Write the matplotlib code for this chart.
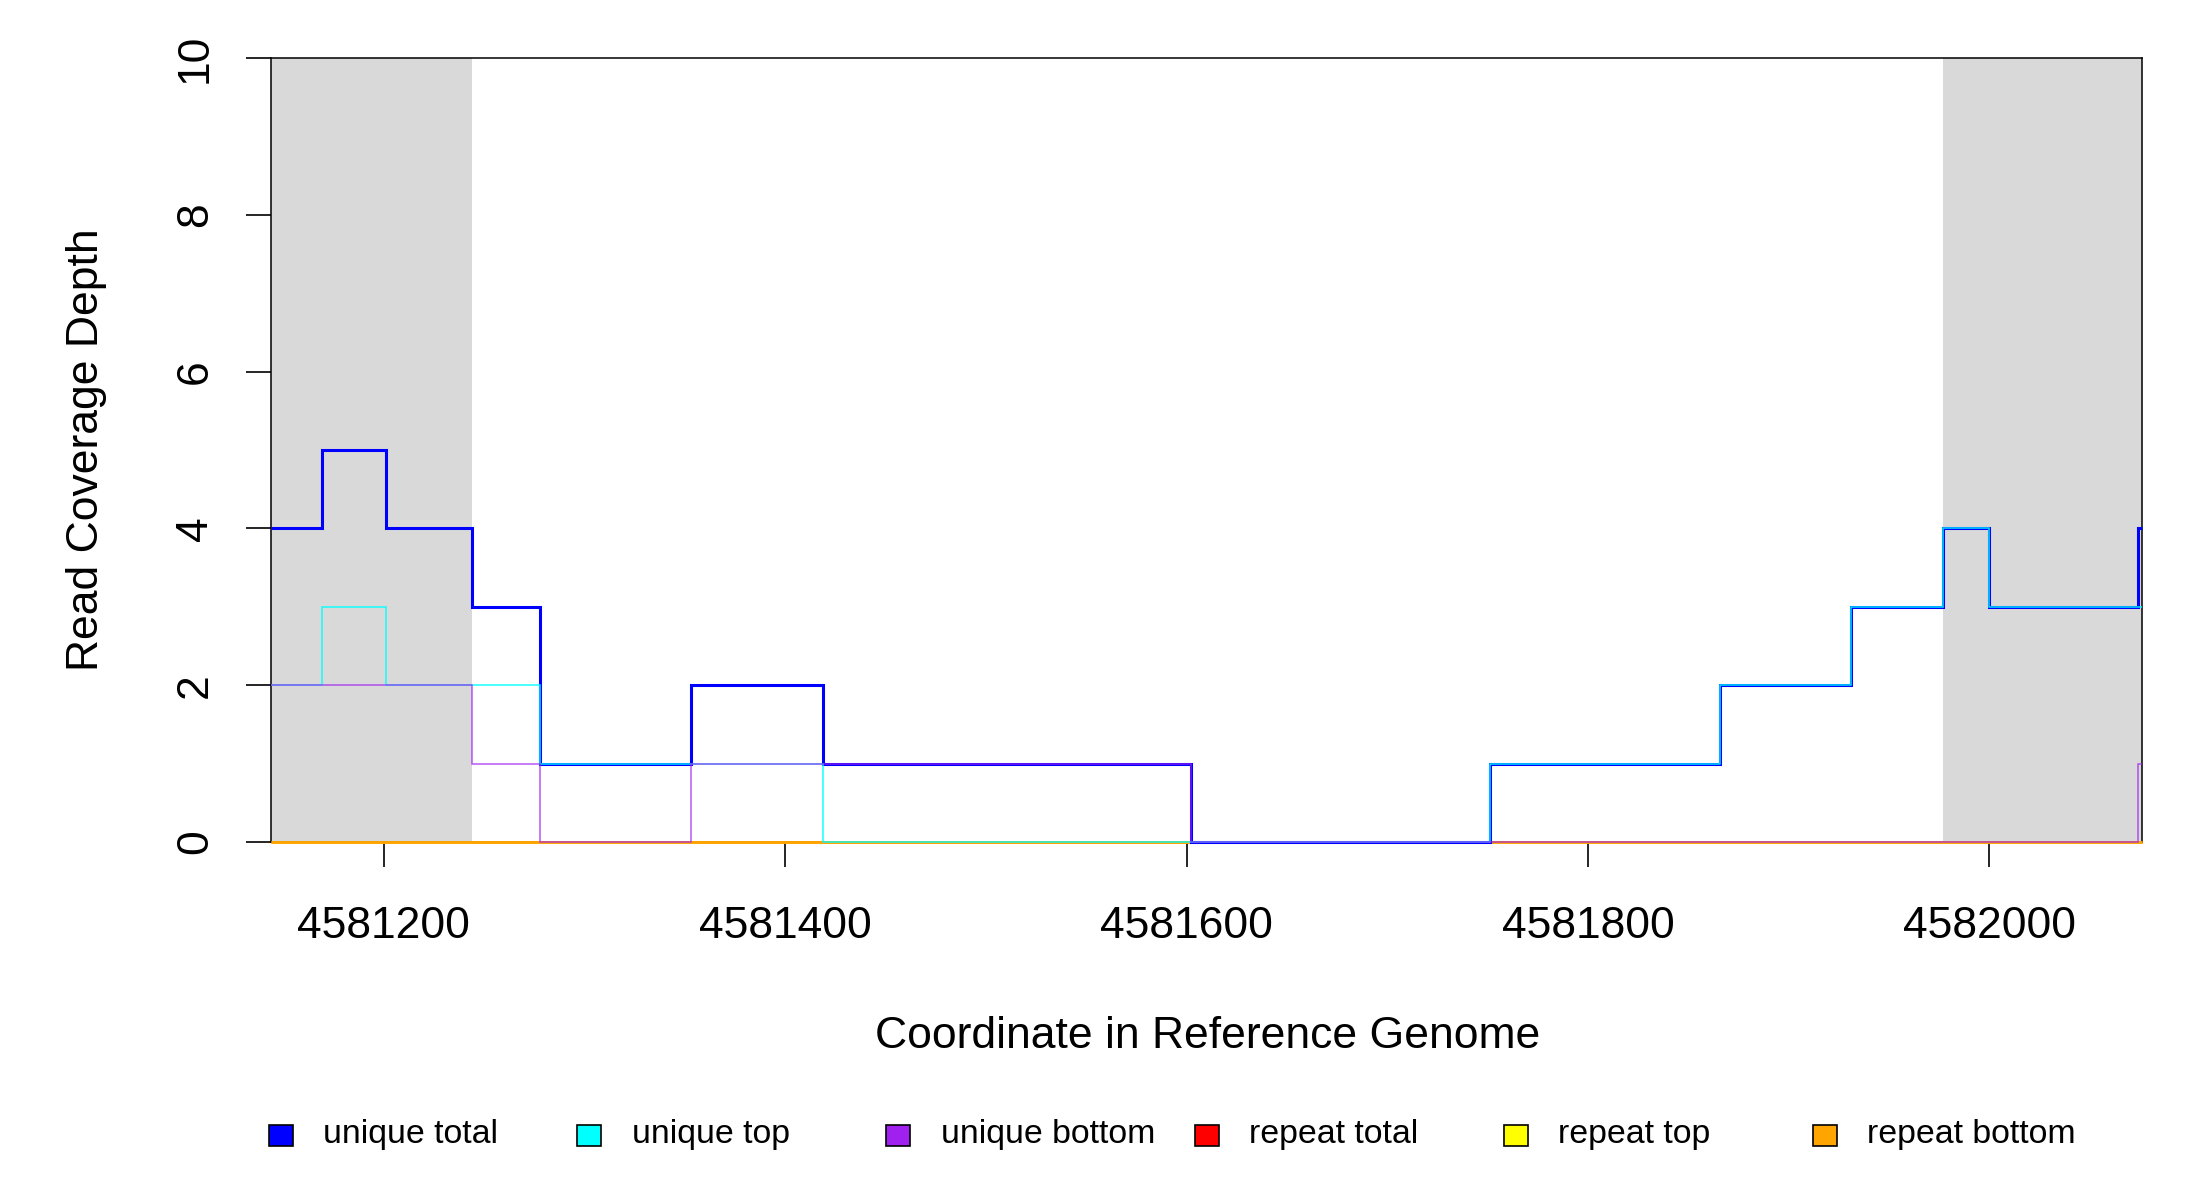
import matplotlib
matplotlib.use("Agg")
import matplotlib.pyplot as plt
from matplotlib.patches import Rectangle

plt.rcParams['font.family'] = ['Liberation Sans', 'DejaVu Sans']

# step edges (genome coordinate) and coverage per segment
edges = [4581144, 4581169, 4581201, 4581244, 4581278, 4581353, 4581419,
         4581602, 4581751, 4581866, 4581931, 4581977, 4582000, 4582074, 4582076]
unique_total = [4, 5, 4, 3, 1, 2, 1, 0, 1, 2, 3, 4, 3, 4]
unique_top = [2, 3, 2, 2, 1, 1, 0, 0, 1, 2, 3, 4, 3, 3]
unique_bottom = [2, 2, 2, 1, 0, 1, 1, 0, 0, 0, 0, 0, 0, 1]
repeat_total = [0] * 14
repeat_top = [0] * 14
repeat_bottom = [0] * 14

# shaded (flanking) regions
shaded = [(4581144, 4581244), (4581977, 4582076)]

xticks = [4581200, 4581400, 4581600, 4581800, 4582000]
yticks = [0, 2, 4, 6, 8, 10]

legend_labels = ['unique total', 'unique top', 'unique bottom',
                 'repeat total', 'repeat top', 'repeat bottom']
legend_colors = ['#0000FF', '#00FFFF', '#A020F0', '#FF0000', '#FFFF00', '#FFA500']

fig = plt.figure(figsize=(11, 6), dpi=200)
ax = fig.add_axes([0.1234, 0.2983, 0.8502, 0.6535])

for a, b in shaded:
    ax.axvspan(a, b, color='#D9D9D9', lw=0, zorder=0)

# repeat lines first, unique on top
kw = dict(baseline=None, zorder=3, clip_on=False)
ax.stairs(repeat_total, edges, color='#FF0000', lw=1.0, alpha=0.7, **kw)
ax.stairs(repeat_top, edges, color='#FFFF00', lw=1.0, alpha=0.6, **kw)
ax.stairs(repeat_bottom, edges, color='#FFA500', lw=1.0, alpha=0.9, **kw)
ax.stairs(unique_total, edges, color='#0000FF', lw=1.1, **kw)
ax.stairs(unique_top, edges, color='#00FFFF', lw=0.55, alpha=0.9, **kw)
ax.stairs(unique_bottom, edges, color='#A020F0', lw=0.55, alpha=0.75, **kw)

ax.set_xlim(edges[0], edges[-1])
ax.set_ylim(0, 10)
ax.set_xticks(xticks)
ax.set_xticklabels([str(t) for t in xticks])
ax.set_yticks(yticks)
ax.set_yticklabels([str(t) for t in yticks], rotation=90, va='center')

for s in ax.spines.values():
    s.set_linewidth(0.55)
ax.tick_params(axis='both', direction='out', length=9, width=0.6, labelsize=16)
ax.tick_params(axis='x', pad=14)
ax.tick_params(axis='y', pad=11)

fig.text(0.549, 1 - 1036 / 1200, 'Coordinate in Reference Genome',
         ha='center', va='center', fontsize=16)
fig.text(87 / 2200, 0.2983 + 0.6535 / 2, 'Read Coverage Depth',
         ha='center', va='center', rotation=90, fontsize=16)

# legend along the bottom
ly = 1 - 1135 / 1200
for i, (lab, col) in enumerate(zip(legend_labels, legend_colors)):
    cx = (280.6 + i * 308.8) / 2200
    w, h = 24 / 2200, 21 / 1200
    fig.add_artist(Rectangle((cx - w / 2, ly - h / 2), w, h, transform=fig.transFigure,
                             facecolor=col, edgecolor='black', lw=0.6))
    fig.text((323 + i * 308.8) / 2200, ly, lab, ha='left', va='center', fontsize=12.2)

fig.savefig('out.png', dpi=200)
